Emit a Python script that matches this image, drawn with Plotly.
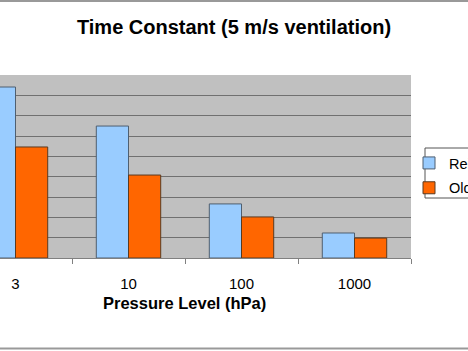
import plotly.graph_objects as go

categories = ["3", "10", "100", "1000"]
series_new_name = "Reinhardt model"
series_old_name = "Old model"
series_new = [8.41, 6.49, 2.66, 1.23]
series_old = [5.46, 4.08, 2.02, 0.98]

W, H = 468, 351
L, R, T, B = 0, 57, 75, 93
plot_w = W - L - R
plot_h = H - T - B

def px_x(x):
    return (x - L) / plot_w

def px_y(y):
    return (H - B - y) / plot_h

FONT = "Liberation Sans, Arial, sans-serif"

fig = go.Figure()
fig.add_trace(go.Bar(x=categories, y=series_new, name=series_new_name,
                     marker=dict(color="#99CCFF", line=dict(color="#4F5F70", width=1)),
                     legendgroup="a"))
fig.add_trace(go.Bar(x=categories, y=series_old, name=series_old_name,
                     marker=dict(color="#FF6600", line=dict(color="#5A3A20", width=1)),
                     legendgroup="b"))

fig.update_layout(
    width=W, height=H,
    margin=dict(l=L, r=R, t=T, b=B, autoexpand=False),
    paper_bgcolor="white",
    plot_bgcolor="#C0C0C0",
    bargap=0.43, bargroupgap=0,
    barmode="group",
    font=dict(family=FONT, color="black"),
    title=dict(text="<b>Time Constant (5 m/s ventilation)</b>", x=0.5, xref="container",
               xanchor="center", y=1 - 27 / H, yref="container", yanchor="middle",
               font=dict(size=20, family=FONT, color="black")),
    showlegend=True,
    legend=dict(x=px_x(409), xanchor="left", y=px_y(147), yanchor="top",
                bgcolor="rgba(0,0,0,0)", borderwidth=0,
                traceorder="grouped", tracegroupgap=3,
                font=dict(size=14.5, family=FONT, color="black")),
    xaxis=dict(range=[-0.5 + 41 / 113, 3.5], type="category",
               showline=True, linecolor="#808080", linewidth=1,
               ticks="outside", tickson="boundaries", ticklen=5, tickcolor="#808080",
               ticklabelstandoff=12,
               tickfont=dict(size=15, family=FONT, color="black"),
               showgrid=False, fixedrange=True),
    yaxis=dict(range=[0, 9], dtick=1, showticklabels=False,
               showgrid=True, gridcolor="#707070", gridwidth=1,
               zeroline=False, showline=False, ticks=""),
    annotations=[dict(text="<b>Pressure Level (hPa)</b>", xref="paper", yref="paper",
                      x=px_x(184.5), y=px_y(303), xanchor="center", yanchor="middle",
                      showarrow=False, font=dict(size=16.5, family=FONT, color="black"))],
    shapes=[
        dict(type="rect", xref="paper", yref="paper",
             x0=px_x(-20), x1=px_x(500), y0=px_y(348.5), y1=px_y(1),
             line=dict(color="#999999", width=2), layer="below"),
        dict(type="rect", xref="paper", yref="paper",
             x0=px_x(425), x1=px_x(520), y0=px_y(198), y1=px_y(148),
             line=dict(color="#555555", width=1), fillcolor="white", layer="below"),
    ],
)

fig.write_html("out.html")
